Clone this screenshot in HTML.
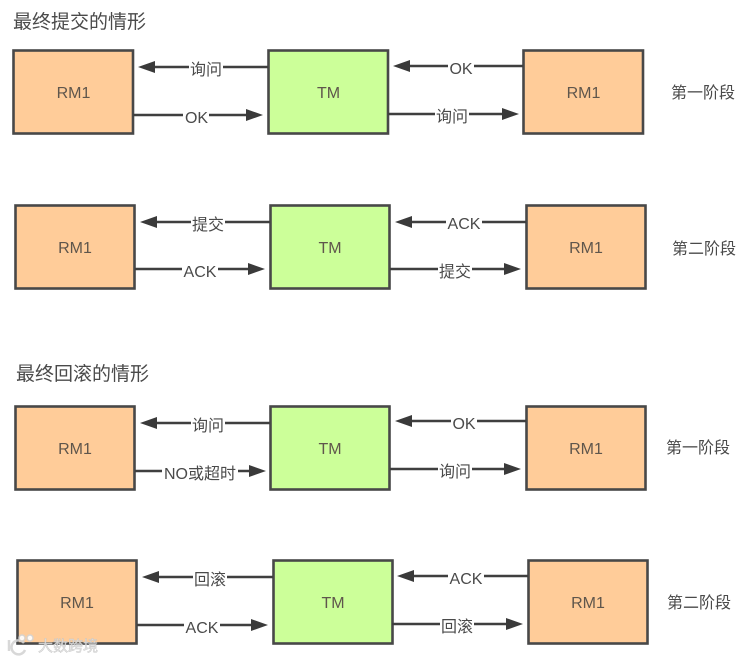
<!DOCTYPE html>
<html><head><meta charset="utf-8">
<style>
html,body{margin:0;padding:0;background:#fff;width:746px;height:660px;overflow:hidden}
svg{display:block;filter:blur(0.35px)}
text{font-family:"Liberation Sans","Noto Sans CJK SC",sans-serif;fill:#4a4a4a;font-size:16px;text-anchor:middle}
.t{font-size:19px;text-anchor:start;fill:#4a4a4a}
.n{fill:#5f564c}
.o{fill:#ffcc99;stroke:#484848;stroke-width:2.600}
.g{fill:#ccff99;stroke:#484848;stroke-width:2.600}
.l{stroke:#3f3f3f;stroke-width:2.600;fill:none}
.h{fill:#3a3a3a}
.w{fill:#fff}
</style></head><body>
<svg width="746" height="660" viewBox="0 0 746 660" xmlns="http://www.w3.org/2000/svg">
<text class="t" x="13" y="28">最终提交的情形</text>
<text class="t" x="16" y="380">最终回滚的情形</text>

<!-- Row 1 -->
<rect class="o" x="13.500" y="50.500" width="119.500" height="83"/>
<rect class="g" x="268.500" y="50.500" width="119.500" height="83"/>
<rect class="o" x="523.500" y="50.500" width="119.500" height="83"/>
<text class="n" x="73.500" y="98">RM1</text><text class="n" x="328.500" y="98">TM</text><text class="n" x="583.500" y="98">RM1</text>
<path class="l" d="M268 67H152M133 115H248M523 66H408M388 114H504"/>
<path class="h" d="M138 67l17-6v12zM263 115l-17-6v12zM393 66l17-6v12zM519 114l-17-6v12z"/>
<rect class="w" x="189" y="58" width="34" height="20"/><rect class="w" x="183" y="106" width="26" height="20"/><rect class="w" x="448" y="57" width="26" height="20"/><rect class="w" x="435" y="105" width="34" height="20"/>
<text x="206" y="75">询问</text><text x="196.500" y="123">OK</text><text x="461" y="74">OK</text><text x="452" y="122">询问</text>
<text x="703" y="98">第一阶段</text>

<!-- Row 2 -->
<rect class="o" x="15.500" y="205.500" width="119" height="83"/>
<rect class="g" x="270.500" y="205.500" width="119" height="83"/>
<rect class="o" x="526.500" y="205.500" width="119" height="83"/>
<text class="n" x="75" y="253">RM1</text><text class="n" x="330" y="253">TM</text><text class="n" x="586" y="253">RM1</text>
<path class="l" d="M270 222H155M135 269H250M526 222H411M390 269H506"/>
<path class="h" d="M140 222l17-6v12zM265 269l-17-6v12zM395 222l17-6v12zM521 269l-17-6v12z"/>
<rect class="w" x="191" y="213" width="34" height="20"/><rect class="w" x="182" y="260" width="36" height="20"/><rect class="w" x="446" y="213" width="36" height="20"/><rect class="w" x="438" y="260" width="34" height="20"/>
<text x="208" y="230">提交</text><text x="200" y="277">ACK</text><text x="464" y="229">ACK</text><text x="455" y="277">提交</text>
<text x="704" y="254">第二阶段</text>

<!-- Row 3 -->
<rect class="o" x="15.500" y="406.500" width="119" height="83"/>
<rect class="g" x="270.500" y="406.500" width="119" height="83"/>
<rect class="o" x="526.500" y="406.500" width="119" height="83"/>
<text class="n" x="75" y="454">RM1</text><text class="n" x="330" y="454">TM</text><text class="n" x="586" y="454">RM1</text>
<path class="l" d="M270 423H155M135 471H250M526 421H411M390 469H506"/>
<path class="h" d="M140 423l17-6v12zM266 471l-17-6v12zM395 421l17-6v12zM521 469l-17-6v12z"/>
<rect class="w" x="191" y="414" width="34" height="20"/><rect class="w" x="162" y="462" width="76" height="20"/><rect class="w" x="451" y="412" width="26" height="20"/><rect class="w" x="438" y="460" width="34" height="20"/>
<text x="208" y="431">询问</text><text x="200" y="479">NO或超时</text><text x="464" y="429">OK</text><text x="455" y="477">询问</text>
<text x="698" y="453">第一阶段</text>

<!-- Row 4 -->
<rect class="o" x="17.500" y="560.500" width="119" height="83"/>
<rect class="g" x="273.500" y="560.500" width="119" height="83"/>
<rect class="o" x="528.500" y="560.500" width="119" height="83"/>
<text class="n" x="77" y="608">RM1</text><text class="n" x="333" y="608">TM</text><text class="n" x="588" y="608">RM1</text>
<path class="l" d="M273 577H158M137 625H253M528 576H413M392 624H508"/>
<path class="h" d="M142 577l17-6v12zM268 625l-17-6v12zM397 576l17-6v12zM523 624l-17-6v12z"/>
<rect class="w" x="193" y="568" width="34" height="20"/><rect class="w" x="184" y="616" width="36" height="20"/><rect class="w" x="448" y="567" width="36" height="20"/><rect class="w" x="440" y="615" width="34" height="20"/>
<text x="210" y="585">回滚</text><text x="202" y="633">ACK</text><text x="466" y="584">ACK</text><text x="457" y="632">回滚</text>
<text x="699" y="608">第二阶段</text>

<!-- Watermark -->
<g opacity="0.9">
<path d="M9 640v11M24 643a7 7 0 1 0 1 7" fill="none" stroke="#d4d4d4" stroke-width="2.500"/>
<circle cx="22" cy="638" r="3" fill="#fff" stroke="#d4d4d4" stroke-width="1.500"/>
<circle cx="30" cy="638" r="3" fill="#fff" stroke="#d4d4d4" stroke-width="1.500"/>
<text x="68" y="651" style="font-size:15px;fill:#e8e8e8;stroke:#c4c4c4;stroke-width:.5">大数跨境</text>
</g>
</svg>
</body></html>
